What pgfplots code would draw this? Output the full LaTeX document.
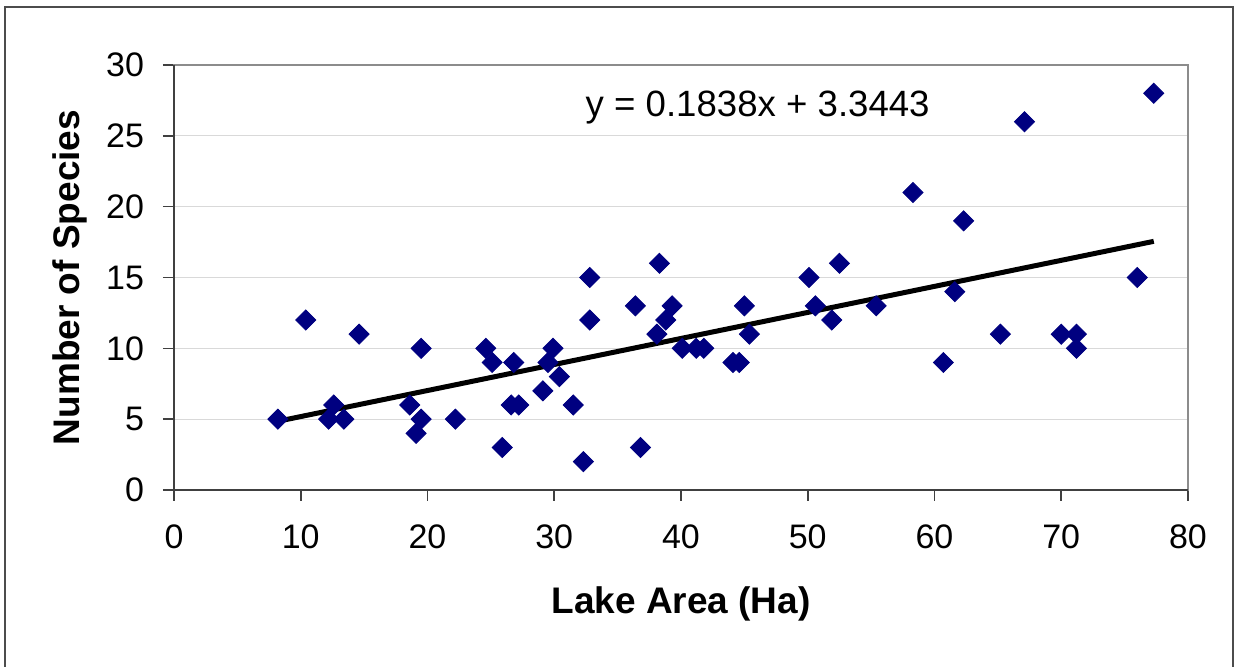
\documentclass[border=0pt]{standalone}
\usepackage{fontspec}
\setmainfont{Liberation Sans}
\usepackage{pgfplots}
\pgfplotsset{compat=1.18}
\definecolor{navy}{RGB}{0,0,128}
\begin{document}
\begin{tikzpicture}
\useasboundingbox (0,0) rectangle (619.5pt,333.5pt);
\fill[white] (0,0) rectangle (619.5pt,333.5pt);
\draw[line width=1pt, color=black!70] (2.5pt,-5pt) -- (2.5pt,330pt) -- (616.5pt,330pt) -- (616.5pt,-5pt);
\begin{axis}[
  at={(87pt,88.5pt)}, anchor=south west,
  scale only axis, width=507pt, height=212.5pt,
  xmin=0, xmax=80, ymin=0, ymax=30,
  xtick={0,10,...,80}, ytick={0,5,...,30},
  tick align=outside, major tick length=5.5pt,
  xtick pos=left, ytick pos=left,
  axis line style={draw=black!45, line width=1pt},
  ymajorgrids, grid style={draw=black!15, line width=0.5pt},
  tick style={draw=black!75, line width=0.8pt},
  /pgf/number format/assume math mode=true,
  tick label style={font=\fontsize{17}{20}\selectfont},
  xticklabel style={yshift=-8.5pt},
  yticklabel style={xshift=-6pt},
  label style={font=\fontsize{18.5}{22}\selectfont\bfseries},
  xlabel={Lake Area (Ha)},
  ylabel={Number of Species},
  xlabel style={at={(axis description cs:0.5,-0.268)}, anchor=center},
  ylabel style={at={(axis description cs:-0.1025,0.5)}, anchor=center},
  clip=false,
]
\addplot[only marks, mark=square*, mark size=3.55pt, mark options={rotate=45, fill=navy, draw=navy}, color=navy] coordinates {
(8.2,5) (10.4,12) (12.2,5) (12.6,6) (13.4,5) (14.6,11) (18.6,6) (19.1,4)
(19.5,10) (19.5,5) (22.2,5) (24.6,10) (25.1,9) (25.9,3) (26.6,6) (26.8,9)
(27.2,6) (29.1,7) (29.5,9) (29.9,10) (30.4,8) (31.5,6) (32.3,2) (32.8,15)
(32.8,12) (36.4,13) (36.8,3) (38.1,11) (38.3,16) (38.8,12) (39.3,13) (40.1,10)
(41.2,10) (41.8,10) (44.1,9) (44.6,9) (45.0,13) (45.4,11) (50.1,15) (50.6,13)
(51.9,12) (52.5,16) (55.4,13) (58.3,21) (60.7,9) (61.6,14) (62.3,19) (65.2,11)
(67.1,26) (70.0,11) (71.2,11) (71.2,10) (76.0,15) (77.3,28)
};
\addplot[black, line width=2.5pt, no marks] coordinates {(8.2,4.852) (77.3,17.552)};
\draw[black!75, line width=1pt] (rel axis cs:0,1) -- (rel axis cs:0,0) -- (rel axis cs:1,0);
\node[font=\fontsize{18.3}{22}\selectfont, anchor=center] at (axis cs:46.05,27.0) {y = 0.1838x + 3.3443};
\end{axis}
\end{tikzpicture}
\end{document}
